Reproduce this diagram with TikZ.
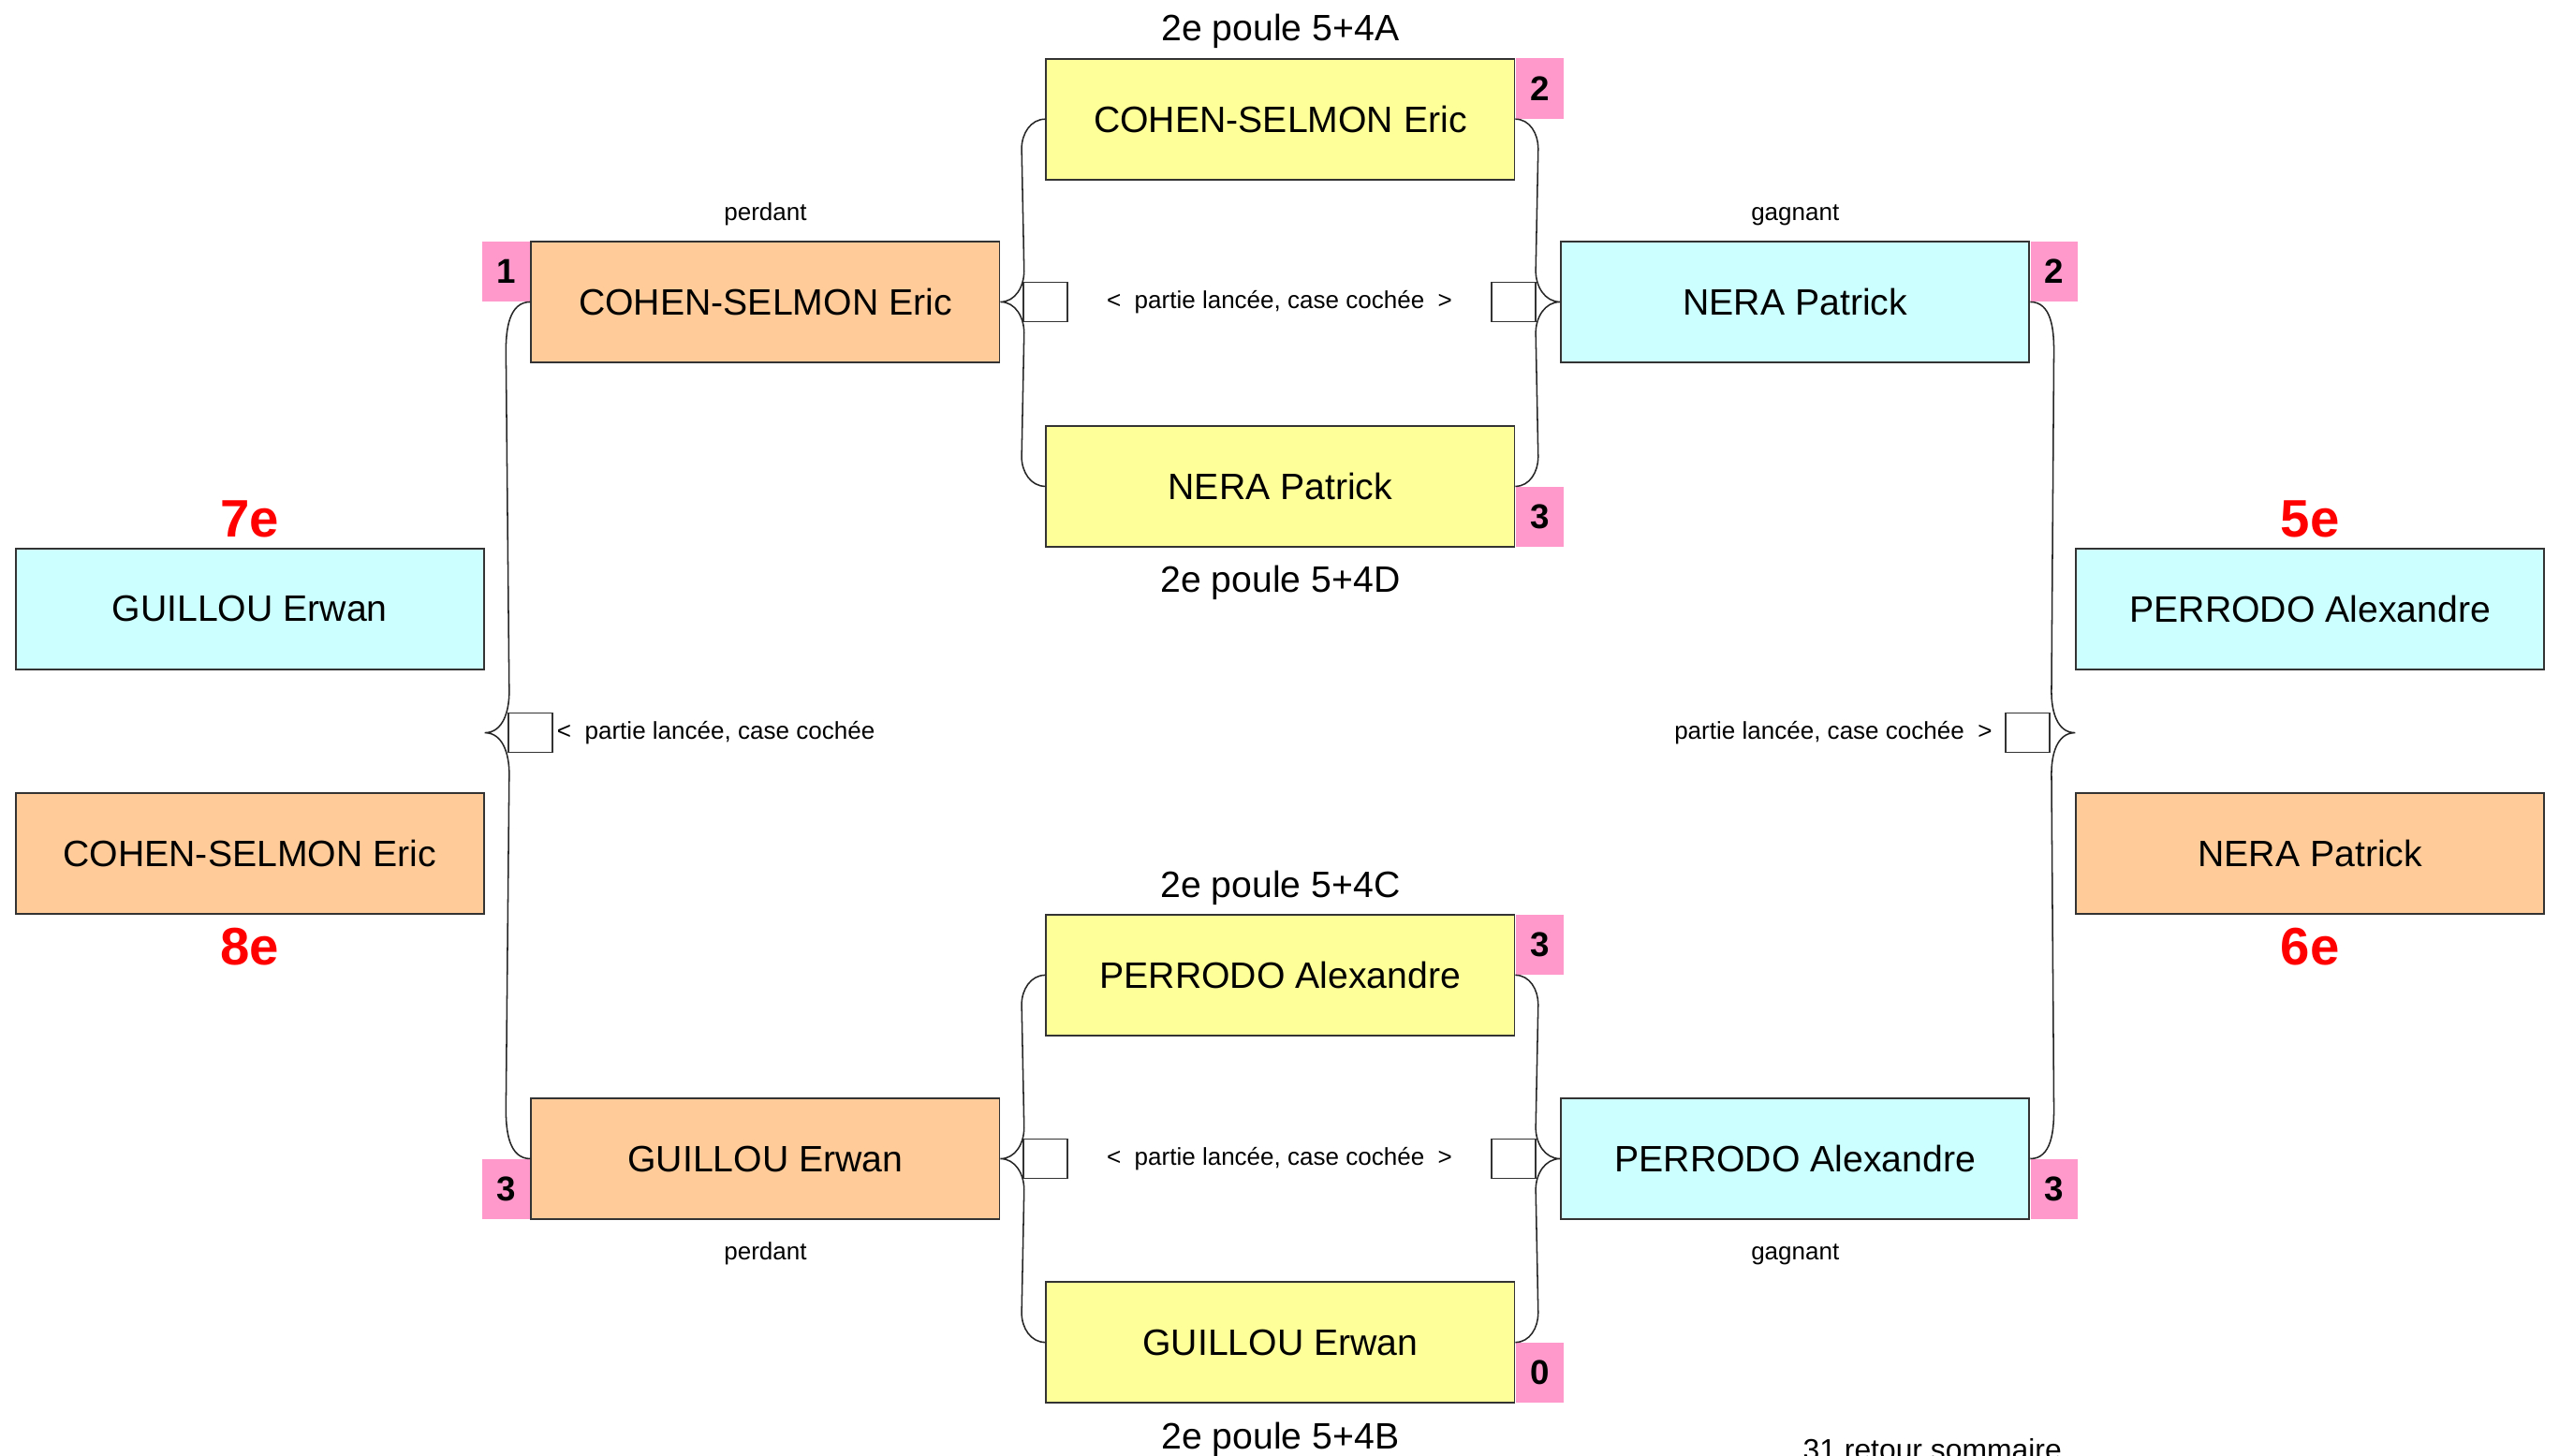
\documentclass[tikz,border=0pt]{standalone}
\usepackage{fontspec}
\setmainfont{Liberation Sans}
\usetikzlibrary{positioning}
\usetikzlibrary{calc}
\definecolor{jaune}{HTML}{FFFF99}
\definecolor{saumon}{HTML}{FFCC99}
\definecolor{cyanclair}{HTML}{CCFFFF}
\definecolor{rose}{HTML}{FF99CC}
\begin{document}
\begin{tikzpicture}[x=0.02cm,y=0.02cm]
  \tikzset{joueur/.style = {draw=black!80, line width=0.6pt, minimum width=5.74cm, minimum height=1.48cm, inner sep=0pt, font=\fontsize{12.8}{15}\selectfont}}
  \tikzset{score/.style = {fill=rose, minimum width=0.58cm, minimum height=0.74cm, inner sep=0pt, font=\fontsize{12}{14}\selectfont\bfseries}}
  \tikzset{cochebox/.style = {draw=black!80, line width=0.5pt, fill=white, minimum width=0.54cm, minimum height=0.48cm, inner sep=0pt}}
  \tikzset{petit/.style = {inner sep=0pt, font=\fontsize{8.5}{10}\selectfont}}
  \tikzset{titre/.style = {inner sep=0pt, anchor=base, font=\fontsize{12.8}{15}\selectfont}}
  \tikzset{rang/.style = {text=red, inner sep=0pt, font=\fontsize{18.4}{22}\selectfont\bfseries}}
  \tikzset{accolade/.style = {draw=black!85, line width=0.5pt}}

  \useasboundingbox (0,0) rectangle (1568,892);

  %%%%%%%%%%%%

  \node[joueur, fill=cyanclair] (c7) at (153,519) {GUILLOU Erwan};
  \node[joueur, fill=saumon] (c8) at (153,369) {COHEN-SELMON Eric};
  \node[rang] (r7) at (153,574) {7e};
  \node[rang] (r8) at (153,312) {8e};

  %%%%%%%%%%%%

  \node[joueur, fill=saumon] (perd1) at (469,707) {COHEN-SELMON Eric};
  \node[joueur, fill=saumon] (perd2) at (469,182) {GUILLOU Erwan};
  \node[score, anchor=north east] (s1) at (perd1.north west) {1};
  \node[score, anchor=south east] (s2) at (perd2.south west) {3};
  \node[petit, anchor=base] (lp1) at (469,757) {perdant};
  \node[petit, anchor=base] (lp2) at (469,120) {perdant};

  %%%%%%%%%%%%

  \node[joueur, fill=jaune] (pA) at (784.5,819) {COHEN-SELMON Eric};
  \node[joueur, fill=jaune] (pD) at (784.5,594) {NERA Patrick};
  \node[joueur, fill=jaune] (pC) at (784.5,294.5) {PERRODO Alexandre};
  \node[joueur, fill=jaune] (pB) at (784.5,69.5) {GUILLOU Erwan};
  \node[titre] (tA) at (784.5,867) {2e poule 5+4A};
  \node[titre] (tD) at (784.5,529) {2e poule 5+4D};
  \node[titre] (tC) at (784.5,342) {2e poule 5+4C};
  \node[titre] (tB) at (784.5,4) {2e poule 5+4B};
  \node[score, anchor=north west] (sA) at (pA.north east) {2};
  \node[score, anchor=south west] (sD) at (pD.south east) {3};
  \node[score, anchor=north west] (sC) at (pC.north east) {3};
  \node[score, anchor=south west] (sB) at (pB.south east) {0};

  \node[cochebox] (kA1) at (640.5,707) {};
  \node[cochebox] (kA2) at (927.5,707) {};
  \node[petit] (mA) at (784,707) {<\ \ partie lancée, case cochée\ \ >};
  \node[cochebox] (kB1) at (640.5,182) {};
  \node[cochebox] (kB2) at (927.5,182) {};
  \node[petit] (mB) at (784,182) {<\ \ partie lancée, case cochée\ \ >};

  %%%%%%%%%%%%

  \node[joueur, fill=cyanclair] (gagn1) at (1100,707) {NERA Patrick};
  \node[joueur, fill=cyanclair] (gagn2) at (1100,182) {PERRODO Alexandre};
  \node[score, anchor=north west] (s5) at (gagn1.north east) {2};
  \node[score, anchor=south west] (s6) at (gagn2.south east) {3};
  \node[petit, anchor=base] (lg1) at (1100,757) {gagnant};
  \node[petit, anchor=base] (lg2) at (1100,120) {gagnant};

  %%%%%%%%%%%%

  \node[joueur, fill=cyanclair] (c5) at (1415.5,519) {PERRODO Alexandre};
  \node[joueur, fill=saumon] (c6) at (1415.5,369) {NERA Patrick};
  \node[rang] (r5) at (1415.5,574) {5e};
  \node[rang] (r6) at (1415.5,312) {6e};

  \coordinate (tipL) at ($(c7.east)!0.5!(c8.east)+(0,-1)$);
  \coordinate (tipR) at ($(c5.west)!0.5!(c6.west)+(0,-1)$);
  \node[cochebox] (kL) at (325,443) {};
  \node[cochebox] (kR) at (1242.5,443) {};
  \node[petit, anchor=west] (mL) at (341,443) {<\ \ partie lancée, case cochée};
  \node[petit, anchor=east] (mR) at (1221,443) {partie lancée, case cochée\ \ >};

  %%%%%%%%%%%%

  \draw[accolade] (pA.west) to[out=180,in=90] ($(pA.west)+(-14.5,-18)$)
  -- ($(perd1.east)+(14.5,19)$) to[out=-90,in=0] (perd1.east)
  to[out=0,in=90] ($(perd1.east)+(14.5,-19)$) -- ($(pD.west)+(-14.5,18)$)
  to[out=-90,in=180] (pD.west);

  \draw[accolade] (pA.east) to[out=0,in=90] ($(pA.east)+(14,-18)$)
  -- ($(gagn1.west)+(-15,19)$) to[out=-90,in=180] (gagn1.west)
  to[out=180,in=90] ($(gagn1.west)+(-15,-19)$) -- ($(pD.east)+(14,18)$)
  to[out=-90,in=0] (pD.east);

  \draw[accolade] (pC.west) to[out=180,in=90] ($(pC.west)+(-14.5,-18)$)
  -- ($(perd2.east)+(14.5,19)$) to[out=-90,in=0] (perd2.east)
  to[out=0,in=90] ($(perd2.east)+(14.5,-19)$) -- ($(pB.west)+(-14.5,18)$)
  to[out=-90,in=180] (pB.west);

  \draw[accolade] (pC.east) to[out=0,in=90] ($(pC.east)+(14,-18)$)
  -- ($(gagn2.west)+(-15,19)$) to[out=-90,in=180] (gagn2.west)
  to[out=180,in=90] ($(gagn2.west)+(-15,-19)$) -- ($(pB.east)+(14,18)$)
  to[out=-90,in=0] (pB.east);

  \draw[accolade] (perd1.west) to[out=180,in=90] ($(perd1.west)+(-15,-30)$)
  -- ($(tipL)+(15,25)$) to[out=-90,in=0] (tipL)
  to[out=0,in=90] ($(tipL)+(15,-25)$) -- ($(perd2.west)+(-15,30)$)
  to[out=-90,in=180] (perd2.west);

  \draw[accolade] (gagn1.east) to[out=0,in=90] ($(gagn1.east)+(14.5,-30)$)
  -- ($(tipR)+(-14.5,25)$) to[out=-90,in=180] (tipR)
  to[out=180,in=90] ($(tipR)+(-14.5,-25)$) -- ($(gagn2.east)+(14.5,30)$)
  to[out=-90,in=0] (gagn2.east);

  %%%%%%%%%%%%

  \node[anchor=base, inner sep=0pt, font=\fontsize{10.4}{12}\selectfont] (retour) at (1184,-3) {31 retour sommaire};

\end{tikzpicture}
\end{document}
